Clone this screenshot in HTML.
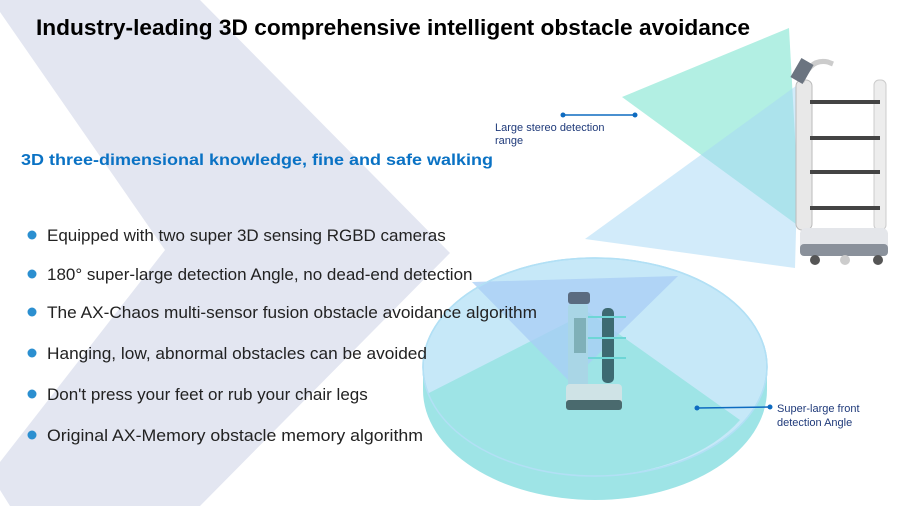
<!DOCTYPE html>
<html><head><meta charset="utf-8"><style>
html,body{margin:0;padding:0;background:#fff;}
svg{display:block;}
</style></head><body>
<svg width="900" height="506" viewBox="0 0 900 506" xmlns="http://www.w3.org/2000/svg" font-family="Liberation Sans, sans-serif">
<rect width="900" height="506" fill="#fff"/>
<!-- chevron -->
<polygon points="0,0 200,0 450,253 200,506 10,506 0,490 0,462 165,250 0,12" fill="#e3e6f1"/>
<!-- upper triangles -->
<polygon points="622,97 789,28 800,227" fill="#b2efe3"/>
<polygon points="585,239 800,83 795,268" fill="#a6d8f6" fill-opacity="0.5"/>
<!-- robot right -->
<g>
<rect x="796" y="80" width="16" height="150" rx="6" fill="#e8e8e8" stroke="#bbb"/>
<rect x="874" y="80" width="12" height="150" rx="5" fill="#ededed" stroke="#ccc"/>
<path d="M802,82 Q810,58 828,62 L833,64" stroke="#ccc" stroke-width="5" fill="none"/>
<rect x="795" y="60" width="14" height="22" fill="#6b7480" transform="rotate(30 802 71)"/>
<rect x="810" y="100" width="70" height="4" fill="#444"/>
<rect x="810" y="136" width="70" height="4" fill="#444"/>
<rect x="810" y="170" width="70" height="4" fill="#444"/>
<rect x="810" y="206" width="70" height="4" fill="#444"/>
<rect x="800" y="228" width="88" height="28" rx="6" fill="#e4e6ea"/>
<rect x="800" y="244" width="88" height="12" rx="4" fill="#8a919b"/>
<circle cx="815" cy="260" r="5" fill="#555"/><circle cx="878" cy="260" r="5" fill="#555"/><circle cx="845" cy="260" r="5" fill="#ccc"/>
</g>
<!-- disk -->
<path d="M423,367 L423,390 A172,110 0 0 0 767,390 L767,367 Z" fill="#9ee4e6"/>
<ellipse cx="595" cy="367" rx="172" ry="109" fill="#c6e8f8" stroke="#a9dcf4" stroke-width="1.5"/>
<path d="M425,395 L588,312 L740,420 A172,109 0 0 1 595,476 A172,109 0 0 1 425,395 Z" fill="#9ee4e6"/>
<polygon points="472,282 678,276 570,382" fill="#a8cdf5" fill-opacity="0.75"/>
<ellipse cx="595" cy="367" rx="172" ry="109" fill="none" stroke="#b2e0f5" stroke-width="1.5"/>
<!-- small robot -->
<g>
<rect x="568" y="292" width="22" height="12" rx="3" fill="#5a6b80"/>
<rect x="568" y="304" width="20" height="100" rx="3" fill="#a9d6e6"/>
<rect x="574" y="318" width="12" height="35" fill="#7fb0b8"/>
<rect x="602" y="308" width="12" height="75" rx="5" fill="#3d6a72"/>
<rect x="588" y="316" width="38" height="2" fill="#6ed6d6"/>
<rect x="588" y="337" width="38" height="2" fill="#6ed6d6"/>
<rect x="588" y="357" width="38" height="2" fill="#6ed6d6"/>
<rect x="566" y="384" width="56" height="22" rx="4" fill="#cfe3e6"/>
<rect x="566" y="400" width="56" height="10" rx="3" fill="#4a6a6e"/>
</g>
<!-- connectors -->
<line x1="563" y1="115" x2="635" y2="115" stroke="#0e6bc0" stroke-width="1.5"/>
<circle cx="563" cy="115" r="2.5" fill="#0e6bc0"/><circle cx="635" cy="115" r="2.5" fill="#0e6bc0"/>
<line x1="697" y1="408" x2="770" y2="407" stroke="#0e6bc0" stroke-width="1.5"/>
<circle cx="697" cy="408" r="2.5" fill="#0e6bc0"/><circle cx="770" cy="407" r="2.5" fill="#0e6bc0"/>
<g fill="#1f3a7a" font-size="11">
<text x="495" y="131">Large stereo detection</text>
<text x="495" y="144">range</text>
<text x="777" y="412">Super-large front</text>
<text x="777" y="426">detection Angle</text>
</g>
<!-- texts -->
<text x="36" y="35" font-size="22" font-weight="bold" fill="#000" textLength="714" lengthAdjust="spacingAndGlyphs">Industry-leading 3D comprehensive intelligent obstacle avoidance</text>
<text x="21" y="165" font-size="16" font-weight="bold" fill="#0a72c4" textLength="472" lengthAdjust="spacingAndGlyphs">3D three-dimensional knowledge, fine and safe walking</text>
<g font-size="17" fill="#222">
<circle cx="32" cy="235" r="4.5" fill="#2b8fd0"/><text x="47" y="241">Equipped with two super 3D sensing RGBD cameras</text>
<circle cx="32" cy="274" r="4.5" fill="#2b8fd0"/><text x="47" y="280">180° super-large detection Angle, no dead-end detection</text>
<circle cx="32" cy="312" r="4.5" fill="#2b8fd0"/><text x="47" y="318" textLength="490" lengthAdjust="spacingAndGlyphs">The AX-Chaos multi-sensor fusion obstacle avoidance algorithm</text>
<circle cx="32" cy="353" r="4.5" fill="#2b8fd0"/><text x="47" y="359" textLength="380" lengthAdjust="spacingAndGlyphs">Hanging, low, abnormal obstacles can be avoided</text>
<circle cx="32" cy="394" r="4.5" fill="#2b8fd0"/><text x="47" y="400">Don't press your feet or rub your chair legs</text>
<circle cx="32" cy="435" r="4.5" fill="#2b8fd0"/><text x="47" y="441" textLength="376" lengthAdjust="spacingAndGlyphs">Original AX-Memory obstacle memory algorithm</text>
</g>
</svg>
</body></html>
